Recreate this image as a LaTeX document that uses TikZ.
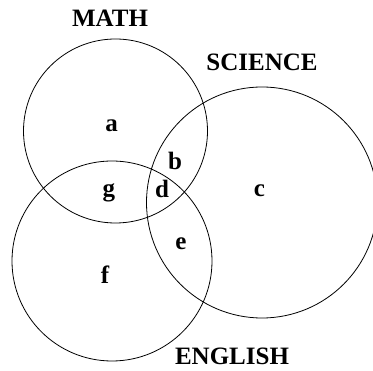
\documentclass[tikz,border=0pt]{standalone}
\usepackage{fontspec}
\setmainfont{Liberation Serif}
\begin{document}
\begin{tikzpicture}[x=1pt,y=-1pt,
  ring/.style={draw=black,line width=0.8pt},
  lbl/.style={inner sep=0pt,anchor=base,font=\fontsize{25}{30}\selectfont\bfseries}]
\useasboundingbox (0,0) rectangle (373,371);
\coordinate (cm) at (115.5,131);
\coordinate (cs) at (262,202.5);
\coordinate (ce) at (112,261);
\draw[ring] (cm) circle[radius=92];
\draw[ring] (cs) circle[radius=115.5];
\draw[ring] (ce) circle[radius=100];
\node[lbl] (math) at (110,27) {MATH};
\node[lbl] (sci) at (262,70.7) {SCIENCE};
\node[lbl] (eng) at (232,365) {ENGLISH};
\node[lbl] (a) at (111.7,131.7) {a};
\node[lbl] (b) at (175,170) {b};
\node[lbl] (c) at (259.5,197) {c};
\node[lbl] (d) at (162,197.5) {d};
\node[lbl] (e) at (181,250) {e};
\node[lbl] (f) at (105,284) {f};
\node[lbl] (g) at (109,197) {g};
\end{tikzpicture}
\end{document}
